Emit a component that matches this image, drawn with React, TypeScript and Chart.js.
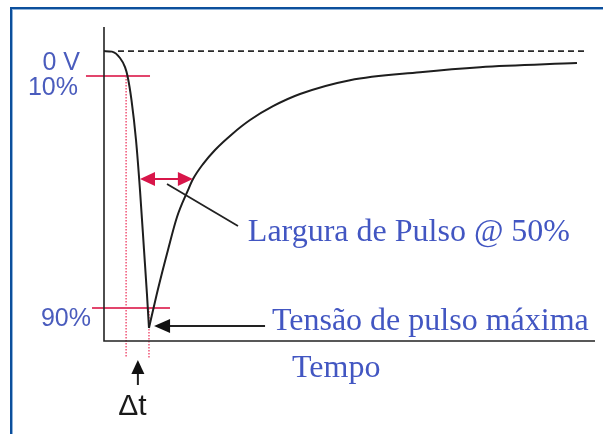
import React, { useEffect, useRef } from 'react';
import { Chart, registerables } from 'chart.js';

Chart.register(...registerables);

// Pulse waveform (time in arbitrary units 0..100, level in % of peak amplitude, negative pulse)
const fallTime = [0, 1.63, 3.26, 4.28, 4.79, 5.6, 6.52, 7.33, 8.15, 8.76, 9.16];
const fallLevel = [0, -0.2, -2.5, -5.8, -9.0, -17.7, -32.1, -50.2, -71.8, -88.1, -100];
const riseTime = [9.16, 11.0, 13.03, 14.87, 17.11, 18.13, 20.16, 22.61, 26.07, 29.74, 34.42, 39.92, 50.1, 64.36, 76.58, 96.33];
const riseLevel = [-100, -85.9, -71.8, -59.9, -50.2, -46.2, -40.8, -35.7, -30.0, -24.9, -19.9, -15.5, -10.5, -7.6, -5.8, -4.3];

// Reference lines
const zeroSpan = [2.85, 98.4];
const levelLabels = ['0 V', '10%', '90%'];
const levelValues = [0, -9.0, -92.8];
const span10 = [-3.67, 9.37];
const span90 = [-2.44, 13.44];
const deltaTimes = [4.5, 9.16];
const deltaBottom = -110.8;

// Annotations (data coordinates)
const widthArrow = { from: [7.33, -46.2], to: [18.1, -46.2] };
const widthLeader = { from: [12.83, -48.0], to: [27.29, -63.2] };
const peakArrow = { from: [32.8, -99.3], to: [10.2, -99.3] };
const deltaArrow = { from: [6.9, -120.6], to: [6.9, -111.6] };
const texts = [
  { text: 'Largura de Pulso @ 50%', at: [29.3, -68.6] },
  { text: 'Tensão de pulso máxima', at: [34.2, -100.7] },
  { text: 'Tempo', at: [38.3, -117.7] },
];
const deltaText = { text: 'Δt', at: [2.9, -131.4] };

const xRange = [0, 100];
const yRange = [-104.7, 8.7];

const toPts = (xs: number[], ys: number[]) => xs.map((x, i) => ({ x, y: ys[i] }));

const BLUE = '#4256c2';
const RED = '#d8164a';
const PINK = '#e2456c';
const DOT = '#ee3a60';

function head(ctx: CanvasRenderingContext2D, tx: number, ty: number, fx: number, fy: number, len: number, hw: number) {
  const dx = tx - fx, dy = ty - fy;
  const d = Math.hypot(dx, dy) || 1;
  const ux = dx / d, uy = dy / d;
  const bx = tx - ux * len, by = ty - uy * len;
  ctx.beginPath();
  ctx.moveTo(tx, ty);
  ctx.lineTo(bx - uy * hw, by + ux * hw);
  ctx.lineTo(bx + uy * hw, by - ux * hw);
  ctx.closePath();
  ctx.fill();
}

const annotPlugin = {
  id: 'annot',
  beforeDraw(chart: any) {
    const ctx = chart.ctx;
    ctx.save();
    // frame
    ctx.fillStyle = '#0c4f9c';
    ctx.fillRect(10, 7, chart.width - 10, 2);
    ctx.fillRect(10, 7, 2, chart.height - 7);
    ctx.fillStyle = '#8fb3da';
    ctx.fillRect(12, 9, chart.width - 12, 1);
    ctx.fillRect(12, 9, 1, chart.height - 9);
    ctx.restore();
  },
  afterDatasetsDraw(chart: any) {
    const ctx = chart.ctx;
    const xs = chart.scales.x, ys = chart.scales.y;
    const px = (v: number) => xs.getPixelForValue(v);
    const py = (v: number) => ys.getPixelForValue(v);
    const ca = chart.chartArea;
    ctx.save();
    // axes
    ctx.strokeStyle = '#222';
    ctx.lineWidth = 1.6;
    ctx.beginPath();
    ctx.moveTo(ca.left, ca.top);
    ctx.lineTo(ca.left, ca.bottom);
    ctx.lineTo(ca.right, ca.bottom);
    ctx.stroke();

    // width arrow (double, red)
    {
      const x1 = px(widthArrow.from[0]), y1 = py(widthArrow.from[1]);
      const x2 = px(widthArrow.to[0]), y2 = py(widthArrow.to[1]);
      ctx.strokeStyle = RED;
      ctx.fillStyle = RED;
      ctx.lineWidth = 2;
      ctx.beginPath();
      ctx.moveTo(x1 + 10, y1);
      ctx.lineTo(x2 - 10, y2);
      ctx.stroke();
      head(ctx, x1, y1, x2, y2, 15, 7);
      head(ctx, x2, y2, x1, y1, 15, 7);
    }
    // leader
    ctx.strokeStyle = '#222';
    ctx.lineWidth = 1.8;
    ctx.beginPath();
    ctx.moveTo(px(widthLeader.from[0]), py(widthLeader.from[1]));
    ctx.lineTo(px(widthLeader.to[0]), py(widthLeader.to[1]));
    ctx.stroke();

    // peak arrow
    {
      const fx = px(peakArrow.from[0]), fy = py(peakArrow.from[1]);
      const tx = px(peakArrow.to[0]), ty = py(peakArrow.to[1]);
      ctx.strokeStyle = '#222';
      ctx.fillStyle = '#111';
      ctx.lineWidth = 2;
      ctx.beginPath();
      ctx.moveTo(fx, fy);
      ctx.lineTo(tx + 10, ty);
      ctx.stroke();
      head(ctx, tx, ty, fx, fy, 16, 7);
    }
    // delta arrow
    {
      const fx = px(deltaArrow.from[0]), fy = py(deltaArrow.from[1]);
      const tx = px(deltaArrow.to[0]), ty = py(deltaArrow.to[1]);
      ctx.strokeStyle = '#222';
      ctx.fillStyle = '#111';
      ctx.lineWidth = 2;
      ctx.beginPath();
      ctx.moveTo(fx, fy);
      ctx.lineTo(tx, ty + 8);
      ctx.stroke();
      head(ctx, tx, ty, fx, fy, 14, 6.5);
    }

    // level labels
    ctx.fillStyle = '#4a5cbd';
    ctx.font = '25px "Liberation Sans", Arial, sans-serif';
    ctx.textAlign = 'right';
    ctx.textBaseline = 'alphabetic';
    const rightOff = [-24, -26, -13];
    const downOff = [19, 19, 18];
    levelLabels.forEach((t, i) => {
      ctx.fillText(t, ca.left + rightOff[i], py(levelValues[i]) + downOff[i]);
    });

    // serif texts
    ctx.fillStyle = BLUE;
    ctx.font = '32px "Liberation Serif", "Times New Roman", serif';
    ctx.textAlign = 'left';
    texts.forEach((t) => ctx.fillText(t.text, px(t.at[0]), py(t.at[1])));

    // delta t
    ctx.fillStyle = '#1a1a1a';
    ctx.font = '30px "Liberation Sans", Arial, sans-serif';
    ctx.fillText(deltaText.text, px(deltaText.at[0]), py(deltaText.at[1]));
    ctx.restore();
  },
};

export default function App() {
  const ref = useRef<HTMLCanvasElement | null>(null);
  useEffect(() => {
    if (!ref.current) return;
    const chart = new Chart(ref.current, {
      type: 'line',
      data: {
        datasets: [
          {
            data: toPts(fallTime, fallLevel),
            borderColor: '#1e1e1e',
            borderWidth: 2,
            pointRadius: 0,
            cubicInterpolationMode: 'monotone',
            clip: false,
          },
          {
            data: toPts(riseTime, riseLevel),
            borderColor: '#1e1e1e',
            borderWidth: 2,
            pointRadius: 0,
            cubicInterpolationMode: 'monotone',
            clip: false,
          },
          {
            data: toPts(zeroSpan, [0, 0]),
            borderColor: '#2a2a2a',
            borderWidth: 1.6,
            borderDash: [6, 4],
            pointRadius: 0,
            clip: false,
          },
          {
            data: toPts(span10, [levelValues[1], levelValues[1]]),
            borderColor: PINK,
            borderWidth: 2,
            pointRadius: 0,
            clip: false,
          },
          {
            data: toPts(span90, [levelValues[2], levelValues[2]]),
            borderColor: PINK,
            borderWidth: 2,
            pointRadius: 0,
            clip: false,
          },
          {
            data: toPts([deltaTimes[0], deltaTimes[0]], [levelValues[1], deltaBottom]),
            borderColor: DOT,
            borderWidth: 1.3,
            borderDash: [1.5, 1.5],
            pointRadius: 0,
            clip: false,
          },
          {
            data: toPts([deltaTimes[1], deltaTimes[1]], [levelValues[2], deltaBottom]),
            borderColor: DOT,
            borderWidth: 1.3,
            borderDash: [1.5, 1.5],
            pointRadius: 0,
            clip: false,
          },
        ],
      },
      options: {
        animation: false,
        responsive: false,
        maintainAspectRatio: false,
        layout: { padding: { left: 104, right: 8, top: 27, bottom: 93 } },
        scales: {
          x: { type: 'linear', display: false, min: xRange[0], max: xRange[1] },
          y: { type: 'linear', display: false, min: yRange[0], max: yRange[1] },
        },
        plugins: { legend: { display: false }, tooltip: { enabled: false } },
      },
      plugins: [annotPlugin],
    });
    return () => chart.destroy();
  }, []);
  return (
    <div style={{ position: 'fixed', left: 0, top: 0, width: 603, height: 434, background: '#fff' }}>
      <canvas ref={ref} width={603} height={434} style={{ width: 603, height: 434, display: 'block' }} />
    </div>
  );
}
